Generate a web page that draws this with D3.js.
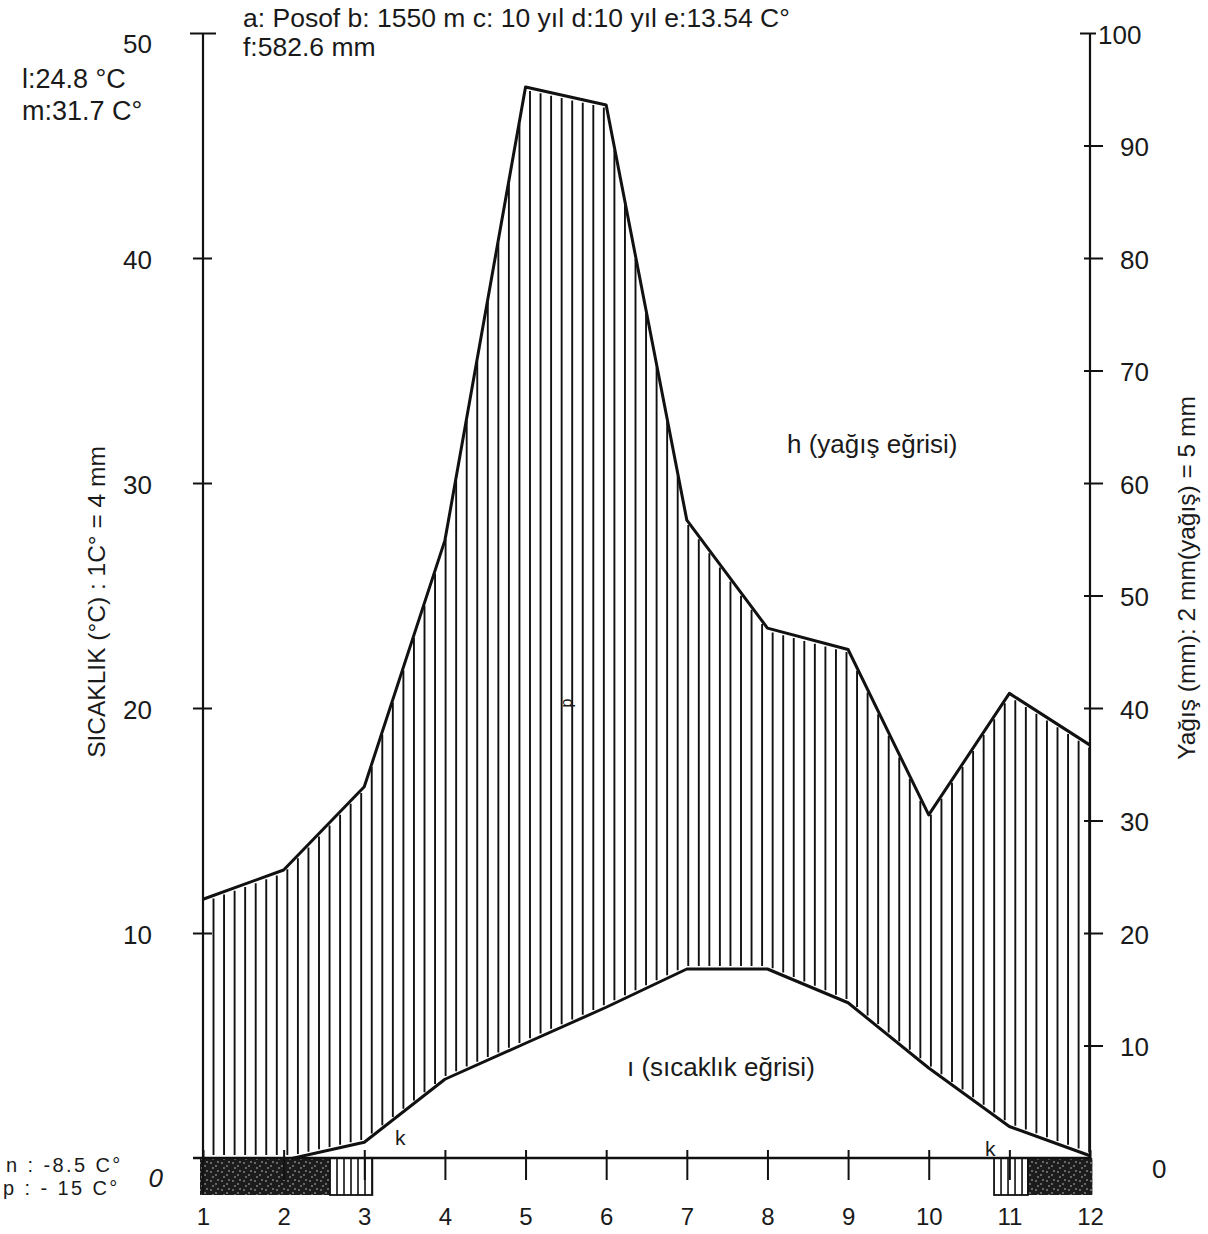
<!DOCTYPE html>
<html>
<head>
<meta charset="utf-8">
<script src="https://cdn.jsdelivr.net/npm/d3@7"></script>
<style>
  body { margin: 0; background: #fff; }
  svg text { font-family: "Liberation Sans", Arial, sans-serif; fill: #1a1a1a; }
</style>
</head>
<body>
<div id="chart"></div>
<script>
// climate diagram - Posof
var months = [1, 2, 3, 4, 5, 6, 7, 8, 9, 10, 11, 12];
var precip = [23.0, 25.6, 33.0, 54.9, 95.2, 93.6, 56.7, 47.1, 45.2, 30.5, 41.3, 36.7];
var temp = [-2.5, -0.1, 0.7, 3.5, 5.1, 6.7, 8.4, 8.4, 6.9, 4.0, 1.4, 0.1];
var tempTicks = [0, 10, 20, 30, 40, 50];
var precipTicks = [0, 10, 20, 30, 40, 50, 60, 70, 80, 90, 100];
// frost periods (month positions)
var frostSure = [[1, 2.575], [11.23, 12.03]];
var frostPossible = [[2.575, 3.1], [10.81, 11.23]];

var W = 1208, H = 1234;
var svg = d3.select('#chart').append('svg')
    .attr('width', W).attr('height', H);

var x = d3.scaleLinear().domain([1, 12]).range([203, 1090]);
var yT = d3.scaleLinear().domain([0, 50]).range([1158, 33]);
var yP = d3.scaleLinear().domain([0, 100]).range([1158, 33]);

// texture for the black frost box
var defs = svg.append('defs');
var pat = defs.append('pattern').attr('id', 'speck')
    .attr('patternUnits', 'userSpaceOnUse').attr('width', 11).attr('height', 9);
pat.append('rect').attr('width', 11).attr('height', 9).attr('fill', '#1c1c1c');
[[2, 2], [7, 5], [4, 7], [9, 1]].forEach(function (p) {
    pat.append('circle').attr('cx', p[0]).attr('cy', p[1]).attr('r', 0.9).attr('fill', '#8a8a8a');
});
defs.append('clipPath').attr('id', 'above0')
    .append('rect').attr('x', 0).attr('y', 0).attr('width', W).attr('height', yT(0));

// interpolate along the monthly polyline
function along(arr, m) {
    var i = Math.min(Math.floor(m) - 1, 10);
    var f = m - (i + 1);
    return arr[i] + (arr[i + 1] - arr[i]) * f;
}

// vertical hatching between temperature and precipitation curves
var hatch = d3.range(x(1) + 10.5, x(12), 10.55);
svg.append('g').selectAll('line').data(hatch).enter().append('line')
    .attr('x1', function (d) { return d; })
    .attr('x2', function (d) { return d; })
    .attr('y1', function (d) { return yT(Math.max(0, along(temp, x.invert(d)))) - 3; })
    .attr('y2', function (d) { return yP(along(precip, x.invert(d))) + 3; })
    .attr('stroke', '#111').attr('stroke-width', 1.9);

// frost boxes
svg.append('g').selectAll('rect').data(frostSure).enter().append('rect')
    .attr('x', function (d) { return x(d[0]) - 3; })
    .attr('y', yT(0))
    .attr('width', function (d) { return x(d[1]) - x(d[0]) + 3; })
    .attr('height', 37)
    .attr('fill', 'url(#speck)');
var fp = svg.append('g');
frostPossible.forEach(function (d) {
    fp.append('rect')
        .attr('x', x(d[0])).attr('y', yT(0))
        .attr('width', x(d[1]) - x(d[0])).attr('height', 37)
        .attr('fill', '#fff').attr('stroke', '#111').attr('stroke-width', 1.8);
    fp.selectAll(null).data(d3.range(x(d[0]) + 7, x(d[1]), 7)).enter().append('line')
        .attr('x1', function (v) { return v; }).attr('x2', function (v) { return v; })
        .attr('y1', yT(0)).attr('y2', yT(0) + 37)
        .attr('stroke', '#111').attr('stroke-width', 1.6);
});

// curves
var lineP = d3.line().x(function (d, i) { return x(months[i]); }).y(function (d) { return yP(d); });
var lineT = d3.line().x(function (d, i) { return x(months[i]); }).y(function (d) { return yT(d); });
svg.append('path').datum(precip).attr('d', lineP)
    .attr('fill', 'none').attr('stroke', '#111').attr('stroke-width', 3).attr('stroke-linejoin', 'round');
svg.append('path').datum(temp).attr('d', lineT).attr('clip-path', 'url(#above0)')
    .attr('fill', 'none').attr('stroke', '#111').attr('stroke-width', 3).attr('stroke-linejoin', 'round');

// baseline
svg.append('line').attr('x1', 193).attr('x2', x(12)).attr('y1', yT(0)).attr('y2', yT(0))
    .attr('stroke', '#111').attr('stroke-width', 2.5);

// left axis
svg.append('line').attr('x1', x(1)).attr('x2', x(1)).attr('y1', yT(50)).attr('y2', yT(0) + 37)
    .attr('stroke', '#111').attr('stroke-width', 2.2);
var gL = svg.append('g').attr('transform', 'translate(' + x(1) + ',0)')
    .call(d3.axisLeft(yT).tickValues(tempTicks).tickSizeOuter(0).tickPadding(51));
gL.select('.domain').remove();
gL.selectAll('.tick line').attr('x1', function (d) { return d === 50 ? -13 : -10; })
    .attr('x2', function (d) { return d === 50 ? 13 : 9; })
    .attr('stroke', '#111').attr('stroke-width', 2)
    .style('display', function (d) { return d === 0 ? 'none' : null; });
gL.selectAll('.tick text').attr('font-size', 26).attr('fill', '#1a1a1a')
    .attr('x', function (d) { return d === 0 ? -40 : -51; })
    .attr('dy', function (d) { return d === 0 ? '1.1em' : (d === 50 ? '0.75em' : '0.4em'); })
    .style('font-style', function (d) { return d === 0 ? 'italic' : null; });

// right axis
svg.append('line').attr('x1', x(12)).attr('x2', x(12)).attr('y1', yP(100)).attr('y2', yP(0))
    .attr('stroke', '#111').attr('stroke-width', 2.2);
var gR = svg.append('g').attr('transform', 'translate(' + x(12) + ',0)')
    .call(d3.axisRight(yP).tickValues(precipTicks).tickSizeOuter(0).tickPadding(30));
gR.select('.domain').remove();
gR.selectAll('.tick line').attr('x1', function (d) { return d === 100 ? -10 : -6; })
    .attr('x2', function (d) { return d === 100 ? 6 : 13; })
    .attr('stroke', '#111').attr('stroke-width', 2)
    .style('display', function (d) { return d === 0 ? 'none' : null; });
gR.selectAll('.tick text').attr('font-size', 26).attr('fill', '#1a1a1a')
    .attr('x', function (d) { return d === 100 ? 8 : (d === 0 ? 62 : 30); })
    .attr('dy', function (d) { return d === 0 ? '0.75em' : '0.4em'; });

// month axis
var gX = svg.append('g').attr('transform', 'translate(0,' + yT(0) + ')')
    .call(d3.axisBottom(x).tickValues(months).tickFormat(d3.format('d')).tickSizeOuter(0).tickPadding(44));
gX.select('.domain').remove();
gX.selectAll('.tick line').attr('y1', -8).attr('y2', function (d) { return d === 1 || d === 12 ? 0 : 22; })
    .attr('stroke', '#111').attr('stroke-width', 2);
gX.selectAll('.tick text').attr('font-size', 24).attr('fill', '#1a1a1a');

// axis titles
svg.append('text').attr('transform', 'translate(105,602) rotate(-90)')
    .attr('text-anchor', 'middle').attr('font-size', 24.5)
    .text('SICAKLIK (°C) : 1C° = 4 mm');
svg.append('text').attr('transform', 'translate(1195,578) rotate(-90)')
    .attr('text-anchor', 'middle').attr('font-size', 24.5)
    .text('Yağış (mm): 2 mm(yağış) = 5 mm');

// station info
svg.append('text').attr('x', 243).attr('y', 27).attr('font-size', 26.5)
    .text('a: Posof b: 1550 m c: 10 yıl d:10 yıl e:13.54 C°');
svg.append('text').attr('x', 243).attr('y', 56).attr('font-size', 26.5).text('f:582.6 mm');
svg.append('text').attr('x', 22).attr('y', 88).attr('font-size', 27).text('l:24.8 °C');
svg.append('text').attr('x', 22).attr('y', 120).attr('font-size', 27).text('m:31.7 C°');
svg.append('text').attr('x', 6).attr('y', 1172).attr('font-size', 20).attr('letter-spacing', 2.4)
    .attr('fill', '#444').text('n : -8.5 C°');
svg.append('text').attr('x', 3).attr('y', 1195).attr('font-size', 20).attr('letter-spacing', 2.4)
    .attr('fill', '#444').text('p : - 15 C°');

// curve labels
svg.append('text').attr('x', 787).attr('y', 453).attr('font-size', 26).text('h (yağış eğrisi)');
svg.append('text').attr('x', 627).attr('y', 1076).attr('font-size', 26).text('ı (sıcaklık eğrisi)');
svg.append('text').attr('x', 395).attr('y', 1145).attr('font-size', 21).text('k');
svg.append('text').attr('x', 985).attr('y', 1156).attr('font-size', 21).text('k');
svg.append('text').attr('transform', 'translate(572,703) rotate(-90)')
    .attr('text-anchor', 'middle').attr('font-size', 16).text('p');
</script>
</body>
</html>
